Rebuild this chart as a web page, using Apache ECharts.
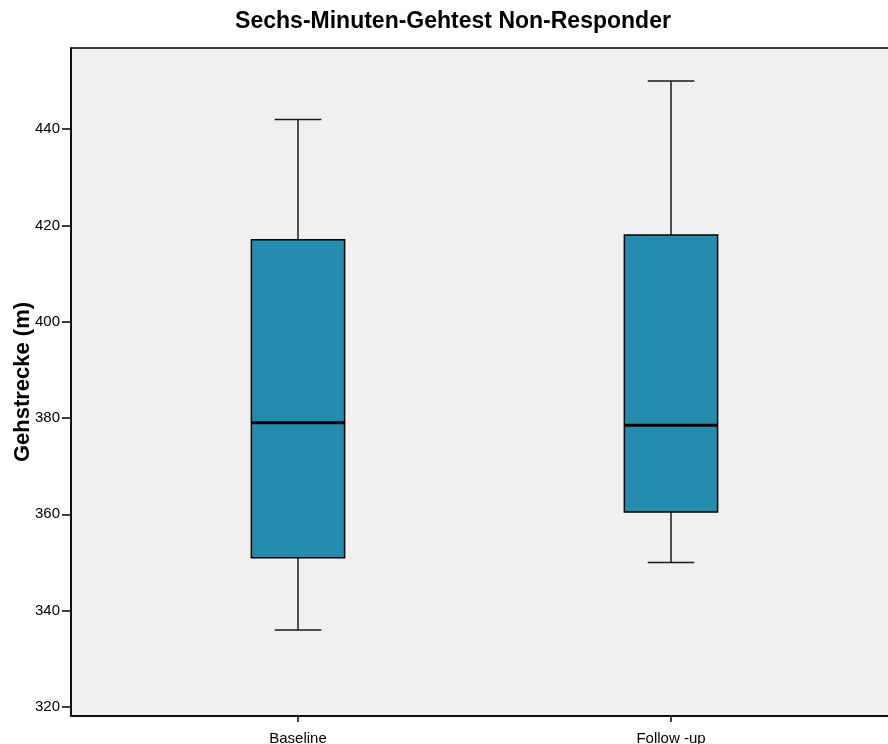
<!DOCTYPE html>
<html>
<head>
<meta charset="utf-8">
<script src="https://cdn.jsdelivr.net/npm/echarts@6/dist/echarts.min.js"></script>
<style>
  html, body { margin: 0; padding: 0; background: #ffffff; }
  #chart { width: 888px; height: 744px; }
</style>
</head>
<body>
<div id="chart"></div>
<script>
// Five-number summaries of the six-minute walk distance (m)
const categories = ['Baseline', 'Follow -up'];
const whiskerLow = [336, 350];
const q1 = [351, 360.5];
const median = [379, 378.5];
const q3 = [417, 418];
const whiskerHigh = [442, 450];
const yTicks = [320, 340, 360, 380, 400, 420, 440];

const boxData = categories.map((c, i) => [i + 1, whiskerLow[i], q1[i], median[i], q3[i], whiskerHigh[i]]);

const BOX_HALF = 0.125;   // half box width in x units
const CAP_HALF = 0.0625;  // half whisker cap width in x units

function renderBox(params, api) {
  const x = api.value(0);
  const lo = api.value(1), b1 = api.value(2), md = api.value(3), b3 = api.value(4), hi = api.value(5);
  const pLo = api.coord([x, lo]);
  const pQ1 = api.coord([x, b1]);
  const pMd = api.coord([x, md]);
  const pQ3 = api.coord([x, b3]);
  const pHi = api.coord([x, hi]);
  const bxL = api.coord([x - BOX_HALF, md])[0];
  const bxR = api.coord([x + BOX_HALF, md])[0];
  const cpL = api.coord([x - CAP_HALF, md])[0];
  const cpR = api.coord([x + CAP_HALF, md])[0];
  const whisker = { stroke: '#1a1a1a', lineWidth: 1.5 };
  return {
    type: 'group',
    children: [
      { type: 'line', shape: { x1: pHi[0], y1: pHi[1], x2: pQ3[0], y2: pQ3[1] }, style: whisker },
      { type: 'line', shape: { x1: cpL, y1: pHi[1], x2: cpR, y2: pHi[1] }, style: whisker },
      { type: 'line', shape: { x1: pLo[0], y1: pLo[1], x2: pQ1[0], y2: pQ1[1] }, style: whisker },
      { type: 'line', shape: { x1: cpL, y1: pLo[1], x2: cpR, y2: pLo[1] }, style: whisker },
      { type: 'rect', shape: { x: bxL, y: pQ3[1], width: bxR - bxL, height: pQ1[1] - pQ3[1] },
        style: { fill: '#248cad', stroke: '#000000', lineWidth: 1.5 } },
      { type: 'line', shape: { x1: bxL, y1: pMd[1], x2: bxR, y2: pMd[1] }, style: { stroke: '#000000', lineWidth: 3 } }
    ]
  };
}

const chart = echarts.init(document.getElementById('chart'), null, { renderer: 'canvas' });
chart.setOption({
  animation: false,
  backgroundColor: '#ffffff',
  textStyle: { fontFamily: 'Liberation Sans, Arial, sans-serif' },
  title: {
    text: 'Sechs-Minuten-Gehtest Non-Responder',
    left: 453,
    top: 10,
    padding: 0,
    textAlign: 'center',
    textStyle: { fontSize: 23, fontWeight: 'bold', color: '#000000', fontFamily: 'Liberation Sans, Arial, sans-serif' }
  },
  grid: {
    left: 71, right: -4, top: 48, bottom: 28,
    outerBoundsMode: 'none',
    containLabel: false,
    show: true, backgroundColor: '#f0f0f0', borderColor: '#000000', borderWidth: 1.5
  },
  xAxis: {
    type: 'value',
    min: 0.39142,
    max: 2.5925,
    splitLine: { show: false },
    axisLine: { show: true, lineStyle: { color: '#000000', width: 1.5 } },
    axisTick: { show: true, customValues: [1, 2], length: 6, lineStyle: { color: '#000000', width: 1.5 } },
    axisLabel: {
      customValues: [1, 2],
      formatter: v => categories[Math.round(v) - 1],
      fontSize: 15, color: '#000000', margin: 15
    }
  },
  yAxis: {
    type: 'value',
    min: 318.13,
    max: 456.83,
    name: 'Gehstrecke (m)',
    nameLocation: 'middle',
    nameRotate: 90,
    nameGap: 37,
    nameMoveOverlap: false,
    nameTextStyle: { fontSize: 22, fontWeight: 'bold', color: '#000000' },
    splitLine: { show: false },
    axisLine: { show: true, lineStyle: { color: '#000000', width: 1.5 } },
    axisTick: { show: true, customValues: yTicks, length: 9, lineStyle: { color: '#000000', width: 1.5 } },
    axisLabel: { customValues: yTicks, fontSize: 15, color: '#000000', margin: 11 }
  },
  series: [{
    type: 'custom',
    renderItem: renderBox,
    encode: { x: 0, y: [1, 2, 3, 4, 5] },
    data: boxData
  }]
});
</script>
</body>
</html>
